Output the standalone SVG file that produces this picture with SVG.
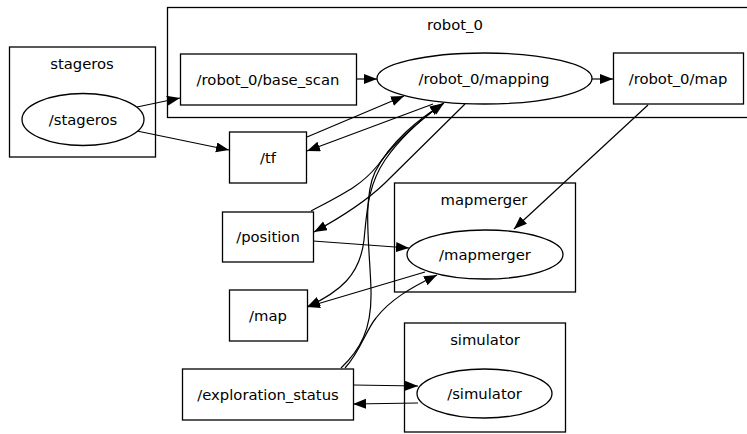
<svg xmlns="http://www.w3.org/2000/svg" width="747" height="434" viewBox="0 0 747 434">
<style>
  .cl { fill: none; stroke: #000; stroke-width: 1.3; }
  .nd { fill: #fff; stroke: #000; stroke-width: 1.3; }
  .t { font-family: "DejaVu Sans", "Liberation Sans", sans-serif; font-size: 14.8px; fill: #000; text-anchor: middle; }
  .e { fill: none; stroke: #000; stroke-width: 1.2; marker-end: url(#ah); }
</style>
<defs>
  <marker id="ah" markerUnits="userSpaceOnUse" markerWidth="15" markerHeight="11" refX="13" refY="5" orient="auto">
    <path d="M0,0 L13,5 L0,10 z" fill="#000"/>
  </marker>
</defs>
<rect width="747" height="434" fill="#fff"/>

<g id="cluster_stageros">
  <rect class="cl" x="9.5" y="47" width="146" height="110"/>
  <text class="t" x="82" y="69">stageros</text>
</g>
<g id="cluster_robot_0">
  <rect class="cl" x="167.5" y="7.5" width="600" height="110"/>
  <text class="t" x="455" y="30">robot_0</text>
</g>
<g id="cluster_mapmerger">
  <rect class="cl" x="394.5" y="183" width="181" height="109"/>
  <text class="t" x="484" y="205">mapmerger</text>
</g>
<g id="cluster_simulator">
  <rect class="cl" x="404.5" y="323" width="161" height="109"/>
  <text class="t" x="485" y="345">simulator</text>
</g>

<g id="connectors">
  <path class="e" d="M137,107 L180,98"/>
  <path class="e" d="M137,131 L229,150"/>
  <path class="e" d="M356,79 L377,79"/>
  <path class="e" d="M592,79 L613,79"/>
  <path class="e" d="M307,137 L404,96"/>
  <path class="e" d="M433,104 L307,151"/>
  <path class="e" d="M311,211 C345,193 362,185 378,165 C395,142 420,120 444,103"/>
  <path class="e" d="M465,104 L385,183 Q360,207 314,232"/>
  <path class="e" d="M313,241 L409,248"/>
  <path class="e" d="M425,272 L307,307"/>
  <path class="e" d="M442,104 C420,120 400,138 385,160 C368,185 367,210 364,240 C360,275 340,292 307,307"/>
  <path class="e" d="M341,368 C360,350 372,330 371,290 C370,250 362,200 375,172 C390,142 420,118 443,104"/>
  <path class="e" d="M345,368 C360,352 366,330 376,318 C390,300 410,288 437,275"/>
  <path class="e" d="M648,105 L514,229"/>
  <path class="e" d="M353,385 L418,386"/>
  <path class="e" d="M418,403 L353,404"/>
</g>

<g id="node_stageros">
  <ellipse class="nd" cx="83" cy="119.5" rx="61" ry="26"/>
  <text class="t" x="83" y="124.5">/stageros</text>
</g>
<g id="node_base_scan">
  <rect class="nd" x="180.5" y="54" width="176" height="51"/>
  <text class="t" x="268" y="84.5">/robot_0/base_scan</text>
</g>
<g id="node_mapping">
  <ellipse class="nd" cx="484.5" cy="78.5" rx="107.5" ry="25.5"/>
  <text class="t" x="484" y="84">/robot_0/mapping</text>
</g>
<g id="node_robot_0_map">
  <rect class="nd" x="613.5" y="53" width="130" height="51"/>
  <text class="t" x="678" y="84">/robot_0/map</text>
</g>
<g id="node_tf">
  <rect class="nd" x="229.5" y="132" width="77" height="51"/>
  <text class="t" x="268" y="163">/tf</text>
</g>
<g id="node_position">
  <rect class="nd" x="222.5" y="212" width="91" height="50"/>
  <text class="t" x="268" y="242">/position</text>
</g>
<g id="node_mapmerger">
  <ellipse class="nd" cx="485" cy="254.5" rx="78" ry="24.5"/>
  <text class="t" x="485" y="259.5">/mapmerger</text>
</g>
<g id="node_map">
  <rect class="nd" x="229.5" y="290" width="78" height="51"/>
  <text class="t" x="268" y="321">/map</text>
</g>
<g id="node_exploration_status">
  <rect class="nd" x="182.5" y="369" width="171" height="51"/>
  <text class="t" x="268" y="400">/exploration_status</text>
</g>
<g id="node_simulator">
  <ellipse class="nd" cx="484.5" cy="393.5" rx="67.5" ry="24.5"/>
  <text class="t" x="484.5" y="398.5">/simulator</text>
</g>
</svg>
